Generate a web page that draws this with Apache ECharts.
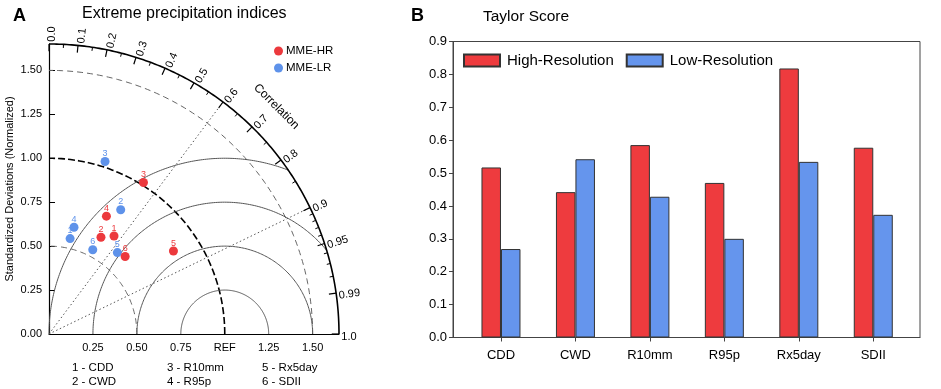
<!DOCTYPE html>
<html><head><meta charset="utf-8">
<script src="https://cdn.jsdelivr.net/npm/echarts@6/dist/echarts.min.js"></script>
<style>html,body{margin:0;padding:0;background:#fff}#c{width:941px;height:389px}</style>
</head><body><div id="c"></div>
<script>
// ---------- data ----------
const indexNames = ['CDD', 'CWD', 'R10mm', 'R95p', 'Rx5day', 'SDII'];
// Panel A: normalized standard deviation and correlation for each index
const hrStd  = [0.669, 0.625, 1.016, 0.746, 0.851, 0.618];
const hrCorr = [0.553, 0.473, 0.529, 0.438, 0.832, 0.701];
const lrStd  = [0.556, 0.816, 1.032, 0.624, 0.605, 0.540];
const lrCorr = [0.216, 0.500, 0.309, 0.228, 0.643, 0.461];
const corrMajor = ['0.0', '0.1', '0.2', '0.3', '0.4', '0.5', '0.6', '0.7', '0.8', '0.9', '0.95', '0.99', '1.0'];
const corrMinor = [0.05, 0.15, 0.25, 0.35, 0.45, 0.55, 0.65, 0.75, 0.85, 0.91, 0.92, 0.93, 0.94, 0.96, 0.97, 0.98];
const corrRays = [0.6, 0.9];
const stdCircles = [0.5, 1.0, 1.5];
const rmsCircles = [0.25, 0.5, 0.75, 1.0];
const indexLegend = ['1 - CDD', '2 - CWD', '3 - R10mm', '4 - R95p', '5 - Rx5day', '6 - SDII'];
// Panel B: Taylor score
const scoreHigh = [0.517, 0.442, 0.585, 0.470, 0.818, 0.577];
const scoreLow  = [0.269, 0.542, 0.428, 0.300, 0.534, 0.373];

// ---------- styling ----------
const FONT = 'Liberation Sans, Arial, Helvetica, sans-serif';
const RED = '#EC393D', BLUE = '#5E92EA';
const BAR_RED = '#EE3B3E', BAR_BLUE = '#6595ED';
const RMAX = 1.65;

function toXY(s, c) { return [s * c, s * Math.sqrt(Math.max(0, 1 - c * c))]; }
function pts(std, corr) { return std.map((s, i) => { const p = toXY(s, corr[i]); return [p[0], p[1], i + 1]; }); }

function renderFrame(params, api) {
  const P = p => api.coord(p);
  const ch = [];
  const line = (arr, style) => ch.push({ type: 'polyline', silent: true, shape: { points: arr.map(P) }, style: Object.assign({ fill: null }, style) });
  // std circles
  stdCircles.forEach(r => {
    const a = [];
    for (let t = 0; t <= 90.001; t += 1) a.push([r * Math.cos(t * Math.PI / 180), r * Math.sin(t * Math.PI / 180)]);
    const isRef = Math.abs(r - 1) < 1e-6;
    line(a, isRef ? { stroke: '#000', lineWidth: 1.6, lineDash: [7, 3] } : { stroke: '#666', lineWidth: 1, lineDash: [6, 4] });
  });
  // RMS circles around REF
  rmsCircles.forEach(R => {
    let c = (RMAX * RMAX - 1 - R * R) / (2 * R);
    let tmin = c >= 1 ? 0 : Math.acos(c);
    const a = [];
    const n = 180;
    for (let k = 0; k <= n; k++) {
      const t = tmin + (Math.PI - tmin) * k / n;
      a.push([1 + R * Math.cos(t), R * Math.sin(t)]);
    }
    line(a, { stroke: '#555', lineWidth: 1 });
  });
  // rays
  corrRays.forEach(c => {
    const e = toXY(RMAX, c);
    line([[0, 0], e], { stroke: '#555', lineWidth: 1, lineDash: [1.5, 2.5] });
  });
  // outer arc
  const o = [];
  for (let t = 0; t <= 90.001; t += 0.5) o.push([RMAX * Math.cos(t * Math.PI / 180), RMAX * Math.sin(t * Math.PI / 180)]);
  line(o, { stroke: '#000', lineWidth: 1.6 });
  // ticks + labels
  corrMajor.forEach(lbl => {
    const c = parseFloat(lbl);
    const th = Math.acos(c);
    line([toXY(RMAX, c), toXY(RMAX * 0.975, c)], { stroke: '#000', lineWidth: 1.2 });
    const p = P(toXY(RMAX * 1.008, c));
    ch.push({ type: 'text', silent: true, x: p[0], y: p[1], rotation: th,
      style: { text: lbl, x: 0, y: 3, align: 'left', verticalAlign: 'middle', fontSize: 11, fontFamily: FONT, fill: '#000' } });
  });
  corrMinor.forEach(c => {
    line([toXY(RMAX, c), toXY(RMAX * 0.9875, c)], { stroke: '#000', lineWidth: 1 });
  });
  const cp = P([1.83 * Math.cos(Math.PI / 4), 1.83 * Math.sin(Math.PI / 4)]);
  ch.push({ type: 'text', silent: true, x: cp[0], y: cp[1], rotation: -Math.PI / 4,
    style: { text: 'Correlation', x: 0, y: 0, align: 'center', verticalAlign: 'middle', fontSize: 12, fontFamily: FONT, fill: '#000' } });
  return { type: 'group', children: ch };
}

const chart = echarts.init(document.getElementById('c'), null, { renderer: 'canvas' });
const idxText = [];
indexLegend.forEach((t, i) => {
  const col = Math.floor(i / 2), row = i % 2;
  idxText.push({ type: 'text', left: [72, 167, 262][col], top: 362 + row * 14,
    style: { text: t, fontSize: 11.5, fontFamily: FONT, fill: '#000' } });
});

chart.setOption({
  animation: false,
  textStyle: { fontFamily: FONT },
  title: [
    { text: 'A', left: 8, top: 2, textStyle: { fontSize: 18, fontWeight: 'bold', color: '#000', fontFamily: FONT } },
    { text: 'Extreme precipitation indices', left: 77, top: 1, textStyle: { fontSize: 16, fontWeight: 'normal', color: '#000', fontFamily: FONT } },
    { text: 'B', left: 406, top: 2, textStyle: { fontSize: 18, fontWeight: 'bold', color: '#000', fontFamily: FONT } },
    { text: 'Taylor Score', left: 478, top: 4, textStyle: { fontSize: 15.5, fontWeight: 'normal', color: '#000', fontFamily: FONT } }
  ],
  legend: [
    { data: ['MME-HR', 'MME-LR'], orient: 'vertical', left: 274, top: 45, padding: 0, itemGap: 5,
      icon: 'circle', itemWidth: 9, itemHeight: 9, textStyle: { fontSize: 11.5, color: '#000', padding: [0, 0, 0, -2] } },
    { data: ['High-Resolution', 'Low-Resolution'], left: 463, top: 53, padding: 0, itemGap: 12,
      icon: 'rect', itemWidth: 36, itemHeight: 12, textStyle: { fontSize: 15, color: '#000', padding: [0, 0, 0, 2] } }
  ],
  graphic: idxText,
  grid: [
    { left: 49, top: 44, width: 290, height: 290 },
    { left: 453, top: 41.5, width: 467, height: 296, show: true, borderColor: '#444', borderWidth: 1 },
    { left: 463.75, top: 41.5, width: 446.75, height: 296 }
  ],
  xAxis: [
    { gridIndex: 0, type: 'value', min: 0, max: RMAX, interval: 0.25,
      axisLine: { lineStyle: { color: '#000', width: 1.2 } }, axisTick: { show: false }, splitLine: { show: false },
      axisLabel: { fontSize: 11, color: '#000', margin: 8, showMaxLabel: false,
        formatter: v => (v < 0.01 || v > 1.51) ? '' : (Math.abs(v - 1) < 1e-6 ? 'REF' : v.toFixed(2)) } },
    { gridIndex: 1, type: 'value', min: 0, max: 1, axisLine: { lineStyle: { color: '#444' } },
      axisTick: { show: false }, axisLabel: { show: false }, splitLine: { show: false } },
    { gridIndex: 2, type: 'category', data: indexNames, axisLine: { show: false },
      axisTick: { show: true, alignWithLabel: true, length: 4, lineStyle: { color: '#444' } },
      axisLabel: { fontSize: 13, color: '#000', margin: 11 } }
  ],
  yAxis: [
    { gridIndex: 0, type: 'value', min: 0, max: RMAX, interval: 0.25,
      axisLine: { show: true, lineStyle: { color: '#000', width: 1.2 } },
      axisTick: { show: true, inside: true, length: 6, lineStyle: { color: '#000' } }, splitLine: { show: false },
      axisLabel: { fontSize: 11, color: '#000', margin: 7, showMaxLabel: false, formatter: v => v > 1.51 ? '' : v.toFixed(2) },
      name: 'Standardized Deviations (Normalized)', nameLocation: 'middle', nameGap: 34,
      nameTextStyle: { fontSize: 11, color: '#000' } },
    { gridIndex: 1, type: 'value', min: 0, max: 0.9, interval: 0.1,
      axisLine: { show: true, lineStyle: { color: '#444' } },
      axisTick: { show: true, length: 4, lineStyle: { color: '#444' } }, splitLine: { show: false },
      axisLabel: { fontSize: 13, color: '#000', margin: 6, formatter: v => v.toFixed(1) } },
    { gridIndex: 2, type: 'value', min: 0, max: 0.9, show: false, splitLine: { show: false } }
  ],
  series: [
    { type: 'custom', xAxisIndex: 0, yAxisIndex: 0, data: [[0, 0]], renderItem: renderFrame, silent: true, z: 1, clip: false },
    { name: 'MME-HR', type: 'scatter', xAxisIndex: 0, yAxisIndex: 0, data: pts(hrStd, hrCorr), symbolSize: 9, z: 5,
      itemStyle: { color: RED, opacity: 1 },
      label: { show: true, position: 'top', distance: -1, formatter: p => p.data[2], fontSize: 9, color: RED } },
    { name: 'MME-LR', type: 'scatter', xAxisIndex: 0, yAxisIndex: 0, data: pts(lrStd, lrCorr), symbolSize: 9, z: 4,
      itemStyle: { color: BLUE, opacity: 1 },
      label: { show: true, position: 'top', distance: -1, formatter: p => p.data[2], fontSize: 9, color: BLUE } },
    { name: 'High-Resolution', type: 'bar', xAxisIndex: 2, yAxisIndex: 2, data: scoreHigh, barWidth: 19.5, barGap: '0%',
      itemStyle: { color: BAR_RED, borderColor: '#333', borderWidth: 1 } },
    { name: 'Low-Resolution', type: 'bar', xAxisIndex: 2, yAxisIndex: 2, data: scoreLow, barWidth: 19.5, barGap: '0%',
      itemStyle: { color: BAR_BLUE, borderColor: '#333', borderWidth: 1 } }
  ]
});
</script></body></html>
